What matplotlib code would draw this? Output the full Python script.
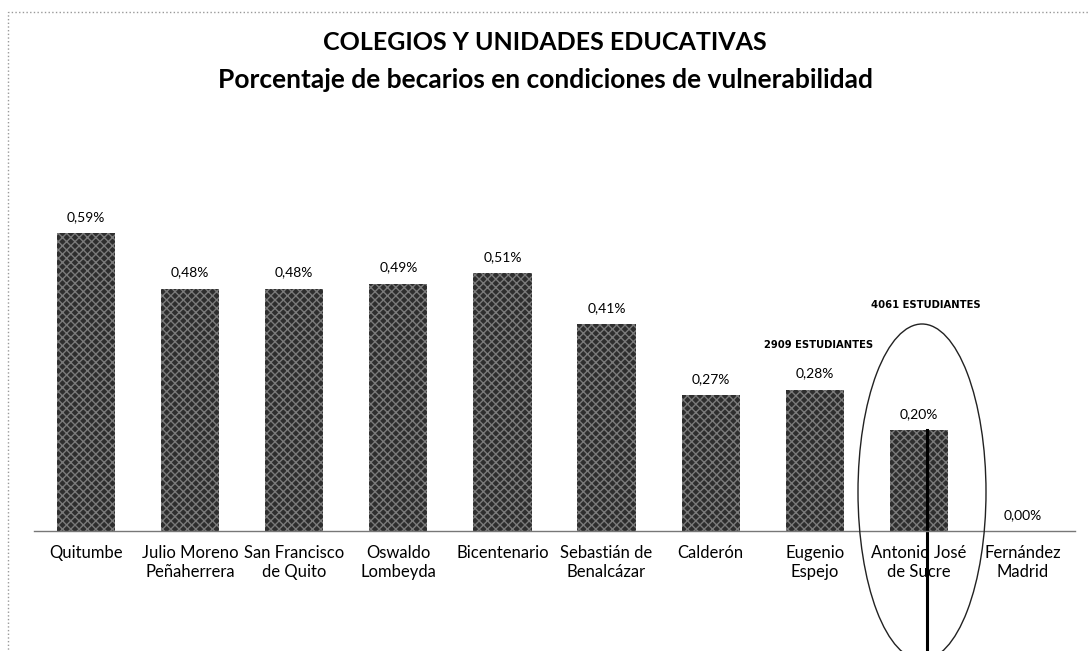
"""
Bar chart: porcentaje de becarios en condiciones de vulnerabilidad
por colegio / unidad educativa
"""

import numpy as np
import matplotlib.pyplot as plt
from matplotlib.patches import Ellipse, Rectangle

colegios = ["Quitumbe", "Julio Moreno\nPeñaherrera", "San Francisco\nde Quito",
            "Oswaldo\nLombeyda", "Bicentenario", "Sebastián de\nBenalcázar",
            "Calderón", "Eugenio\nEspejo", "Antonio José\nde Sucre",
            "Fernández\nMadrid"]
porcentajes = [0.59, 0.48, 0.48, 0.49, 0.51, 0.41, 0.27, 0.28, 0.20, 0.00]
etiquetas   = ["0,59%", "0,48%", "0,48%", "0,49%", "0,51%", "0,41%",
               "0,27%", "0,28%", "0,20%", "0,00%"]
notas_x     = [7.04, 8.07]
notas_txt   = ["2909 ESTUDIANTES", "4061 ESTUDIANTES"]

plt.rcParams['font.family'] = ['Lato', 'DejaVu Sans']

fig = plt.figure(figsize=(10.9, 6.51), dpi=100)
ax = fig.add_axes([34 / 1090, 1 - 531 / 651, 1041 / 1090, 353.5 / 651])

x = np.arange(len(colegios))
ax.bar(x, porcentajes, width=0.56, color='#2e2e2e', hatch='xxxx',
       edgecolor='#7a7a7a', linewidth=0)

# value labels over each bar
for i, (v, txt) in enumerate(zip(porcentajes, etiquetas)):
    ax.annotate(txt, (x[i], v), xytext=(0, 11.5), textcoords='offset points',
                ha='center', va='center', fontsize=10)

# student counts written above the two bars
ax.annotate(notas_txt[0], (notas_x[0], porcentajes[7]), xytext=(0, 32),
            textcoords='offset points', ha='center', va='center',
            fontsize=8, fontweight='bold', fontstretch='condensed',
            family=['Liberation Sans Narrow', 'DejaVu Sans'])
ax.annotate(notas_txt[1], (notas_x[1], porcentajes[8]), xytext=(0, 90),
            textcoords='offset points', ha='center', va='center',
            fontsize=8, fontweight='bold', fontstretch='condensed',
            family=['Liberation Sans Narrow', 'DejaVu Sans'])

ax.set_xlim(-0.5, 9.5)
ax.set_ylim(0, 0.70)
ax.set_xticks(x)
ax.set_xticklabels(colegios, fontsize=12, linespacing=1.25)
ax.tick_params(axis='x', length=0, pad=10)
ax.set_yticks([])
for s in ['top', 'right', 'left']:
    ax.spines[s].set_visible(False)
ax.spines['bottom'].set_color('#777777')
ax.spines['bottom'].set_linewidth(1)

# hand-drawn marks around Antonio José de Sucre
ax.plot([8.08, 8.08], [0.20, -0.26], color='black', lw=2.2, clip_on=False)
fig.patches.append(Ellipse((922 / 1090, 1 - 492 / 651), 128 / 1090, 336 / 651,
                           transform=fig.transFigure, fill=False,
                           edgecolor='#222222', lw=1))

fig.text(0.5, 1 - 42 / 651, "COLEGIOS Y UNIDADES EDUCATIVAS", ha='center',
         va='center', fontsize=18, fontweight='bold')
fig.text(0.5, 1 - 80 / 651, "Porcentaje de becarios en condiciones de vulnerabilidad",
         ha='center', va='center', fontsize=19, fontweight='bold')

# chart frame
fig.patches.append(Rectangle((8 / 1090, -0.05), 1.1, 1.05 - 12 / 651,
                             transform=fig.transFigure, fill=False,
                             edgecolor='#999999', lw=1, linestyle=':'))

fig.savefig("out.png", dpi=100)
